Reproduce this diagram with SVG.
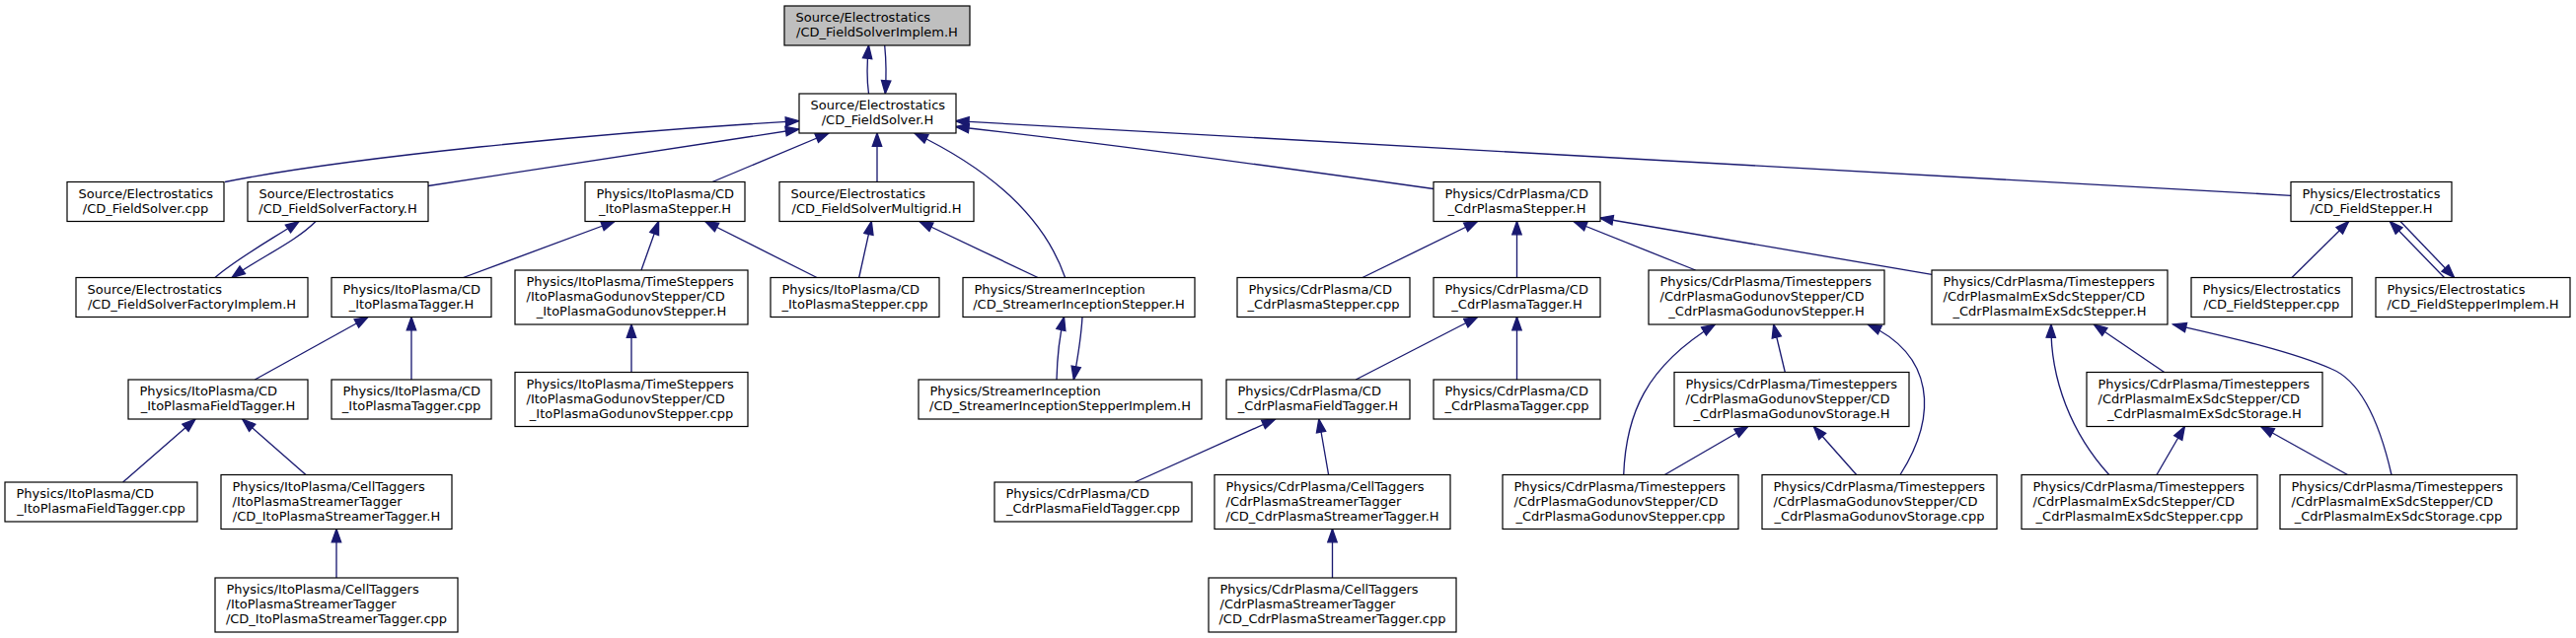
<svg xmlns="http://www.w3.org/2000/svg" width="2611" height="647" viewBox="0 0 2611 647">
<defs>
<style>
.n rect{fill:#ffffff;stroke:#000000;stroke-width:1.2}
.n.root rect{fill:#bfbfbf}
.n text{font-family:"DejaVu Sans",sans-serif;font-size:13px;fill:#000000}
.n text.c{text-anchor:middle}
#edges path{fill:none;stroke:#191970;stroke-width:1.33;marker-end:url(#ah)}
</style>
<marker id="ah" markerUnits="userSpaceOnUse" markerWidth="16" markerHeight="12" viewBox="-1 -6 16 12" refX="13.3" refY="0" orient="auto">
<path d="M0,-4.7 L13.3,0 L0,4.7 z" fill="#191970" stroke="#191970" stroke-width="1.33"/>
</marker>
</defs>
<rect x="0" y="0" width="2611" height="647" fill="#ffffff"/>
<g id="edges">
<path d="M880.5,95 C878.5,80 878.8,62 880.5,46"/>
<path d="M896.7,46 C898.3,62 898.3,80 897.3,95"/>
<path d="M228,184.5 C350,160 600,135 809.7,122.7"/>
<path d="M434,188.5 L809.7,131"/>
<path d="M722,184.5 L840,135"/>
<path d="M889,184.5 L889,135"/>
<path d="M1079.6,281.5 C1060,225 1010,175 927,135"/>
<path d="M1453,191.5 C1300,170 1100,143 968.7,128.5"/>
<path d="M2322,198.3 L968.7,122.7"/>
<path d="M218,281.5 C240,262 280,240 303,224.5"/>
<path d="M320,224.5 C300,245 262,262 235,281.5"/>
<path d="M469.6,281.5 L623,224.5"/>
<path d="M650,274 L667.6,224.5"/>
<path d="M828,281.5 L714.7,224.5"/>
<path d="M870.7,281.5 L883.3,224.5"/>
<path d="M1052,281.5 L932,224.5"/>
<path d="M1071,385 C1071.5,365 1074,340 1078.5,321.5"/>
<path d="M1097,321.5 C1096,340 1092,365 1088.3,385"/>
<path d="M1381,281.5 L1497.6,224.5"/>
<path d="M1537.5,281.5 L1537.5,224.5"/>
<path d="M1718.6,274 L1595,224.5"/>
<path d="M1958,278.3 L1621.6,221"/>
<path d="M2323,281.5 L2380.7,224.5"/>
<path d="M2477.5,281.5 L2422.3,224.5"/>
<path d="M2433,224.5 L2487.6,281.5"/>
<path d="M258.3,385 L373,321.5"/>
<path d="M417,385 L417,321.5"/>
<path d="M640,377.5 L640,329"/>
<path d="M124.6,489 L198,425"/>
<path d="M310,481.5 L245.7,425"/>
<path d="M341,586 L341,536.5"/>
<path d="M1374.2,385 L1497.6,321.5"/>
<path d="M1537.5,385 L1537.5,321.5"/>
<path d="M1150.3,489 L1292.6,425"/>
<path d="M1346.6,481.5 L1336.8,425"/>
<path d="M1350.5,586 L1350.5,536.5"/>
<path d="M1645.7,481.5 C1648,420 1668,372 1738.3,329"/>
<path d="M1809.3,377.5 L1797.7,329"/>
<path d="M1926,481.5 C1965,420 1960,360 1893.3,329"/>
<path d="M1687.3,481.5 L1771.7,432.5"/>
<path d="M1881.7,481.5 L1838.3,432.5"/>
<path d="M2137.8,481.5 C2100,440 2078,385 2079,329"/>
<path d="M2193.7,377.5 L2122.4,329"/>
<path d="M2424,481.5 C2410,420 2390,385 2363,374 C2320,355 2250,340 2202.6,329"/>
<path d="M2186,481.5 L2214.4,432.5"/>
<path d="M2379.5,481.5 L2291.6,432.5"/>
</g>

<g id="n_top" class="n root"><rect x="795" y="6" width="188" height="40"/><text x="806.5" y="22">Source/Electrostatics</text><text class="c" x="889" y="37">/CD_FieldSolverImplem.H</text></g>
<g id="n_fs" class="n"><rect x="810" y="95" width="159" height="40"/><text x="821.5" y="111">Source/Electrostatics</text><text class="c" x="889.5" y="126">/CD_FieldSolver.H</text></g>

<g id="n_fscpp" class="n"><rect x="68" y="184.5" width="159" height="40"/><text x="79.5" y="200.5">Source/Electrostatics</text><text class="c" x="147.5" y="215.5">/CD_FieldSolver.cpp</text></g>
<g id="n_fsfac" class="n"><rect x="251" y="184.5" width="183" height="40"/><text x="262.5" y="200.5">Source/Electrostatics</text><text class="c" x="342.5" y="215.5">/CD_FieldSolverFactory.H</text></g>
<g id="n_itostep" class="n"><rect x="593" y="184.5" width="162" height="40"/><text x="604.5" y="200.5">Physics/ItoPlasma/CD</text><text class="c" x="674" y="215.5">_ItoPlasmaStepper.H</text></g>
<g id="n_mg" class="n"><rect x="790" y="184.5" width="197" height="40"/><text x="801.5" y="200.5">Source/Electrostatics</text><text class="c" x="888.5" y="215.5">/CD_FieldSolverMultigrid.H</text></g>
<g id="n_cdrstep" class="n"><rect x="1453" y="184.5" width="169" height="40"/><text x="1464.5" y="200.5">Physics/CdrPlasma/CD</text><text class="c" x="1537.5" y="215.5">_CdrPlasmaStepper.H</text></g>
<g id="n_fstep" class="n"><rect x="2322" y="184.5" width="163" height="40"/><text x="2333.5" y="200.5">Physics/Electrostatics</text><text class="c" x="2403.5" y="215.5">/CD_FieldStepper.H</text></g>

<g id="n_facimpl" class="n"><rect x="77" y="281.5" width="235" height="40"/><text x="88.5" y="297.5">Source/Electrostatics</text><text class="c" x="194.5" y="312.5">/CD_FieldSolverFactoryImplem.H</text></g>
<g id="n_itotag" class="n"><rect x="336" y="281.5" width="162" height="40"/><text x="347.5" y="297.5">Physics/ItoPlasma/CD</text><text class="c" x="417" y="312.5">_ItoPlasmaTagger.H</text></g>
<g id="n_itogodH" class="n"><rect x="522" y="274" width="236" height="55"/><text x="533.5" y="290">Physics/ItoPlasma/TimeSteppers</text><text x="533.5" y="305">/ItoPlasmaGodunovStepper/CD</text><text class="c" x="640" y="320">_ItoPlasmaGodunovStepper.H</text></g>
<g id="n_itostepcpp" class="n"><rect x="781" y="281.5" width="171" height="40"/><text x="792.5" y="297.5">Physics/ItoPlasma/CD</text><text class="c" x="866.5" y="312.5">_ItoPlasmaStepper.cpp</text></g>
<g id="n_sistep" class="n"><rect x="976" y="281.5" width="235" height="40"/><text x="987.5" y="297.5">Physics/StreamerInception</text><text class="c" x="1093.5" y="312.5">/CD_StreamerInceptionStepper.H</text></g>
<g id="n_cdrstepcpp" class="n"><rect x="1254" y="281.5" width="175" height="40"/><text x="1265.5" y="297.5">Physics/CdrPlasma/CD</text><text class="c" x="1341.5" y="312.5">_CdrPlasmaStepper.cpp</text></g>
<g id="n_cdrtag" class="n"><rect x="1453" y="281.5" width="169" height="40"/><text x="1464.5" y="297.5">Physics/CdrPlasma/CD</text><text class="c" x="1537.5" y="312.5">_CdrPlasmaTagger.H</text></g>
<g id="n_cdrgodH" class="n"><rect x="1671" y="274" width="239" height="55"/><text x="1682.5" y="290">Physics/CdrPlasma/Timesteppers</text><text x="1682.5" y="305">/CdrPlasmaGodunovStepper/CD</text><text class="c" x="1790.5" y="320">_CdrPlasmaGodunovStepper.H</text></g>
<g id="n_cdrimexH" class="n"><rect x="1958" y="274" width="239" height="55"/><text x="1969.5" y="290">Physics/CdrPlasma/Timesteppers</text><text x="1969.5" y="305">/CdrPlasmaImExSdcStepper/CD</text><text class="c" x="2077.5" y="320">_CdrPlasmaImExSdcStepper.H</text></g>
<g id="n_fstepcpp" class="n"><rect x="2221" y="281.5" width="163" height="40"/><text x="2232.5" y="297.5">Physics/Electrostatics</text><text class="c" x="2302.5" y="312.5">/CD_FieldStepper.cpp</text></g>
<g id="n_fstepimpl" class="n"><rect x="2408" y="281.5" width="197" height="40"/><text x="2419.5" y="297.5">Physics/Electrostatics</text><text class="c" x="2506.5" y="312.5">/CD_FieldStepperImplem.H</text></g>

<g id="n_itoftagH" class="n"><rect x="130" y="385" width="182" height="40"/><text x="141.5" y="401">Physics/ItoPlasma/CD</text><text class="c" x="221" y="416">_ItoPlasmaFieldTagger.H</text></g>
<g id="n_itotagcpp" class="n"><rect x="336" y="385" width="162" height="40"/><text x="347.5" y="401">Physics/ItoPlasma/CD</text><text class="c" x="417" y="416">_ItoPlasmaTagger.cpp</text></g>
<g id="n_itogodcpp" class="n"><rect x="522" y="377.5" width="236" height="55"/><text x="533.5" y="393.5">Physics/ItoPlasma/TimeSteppers</text><text x="533.5" y="408.5">/ItoPlasmaGodunovStepper/CD</text><text class="c" x="640" y="423.5">_ItoPlasmaGodunovStepper.cpp</text></g>
<g id="n_siimpl" class="n"><rect x="931" y="385" width="287" height="40"/><text x="942.5" y="401">Physics/StreamerInception</text><text class="c" x="1074.5" y="416">/CD_StreamerInceptionStepperImplem.H</text></g>
<g id="n_cdrftagH" class="n"><rect x="1243" y="385" width="186" height="40"/><text x="1254.5" y="401">Physics/CdrPlasma/CD</text><text class="c" x="1336" y="416">_CdrPlasmaFieldTagger.H</text></g>
<g id="n_cdrtagcpp" class="n"><rect x="1453" y="385" width="169" height="40"/><text x="1464.5" y="401">Physics/CdrPlasma/CD</text><text class="c" x="1537.5" y="416">_CdrPlasmaTagger.cpp</text></g>
<g id="n_cdrgodstorH" class="n"><rect x="1697" y="377.5" width="238" height="55"/><text x="1708.5" y="393.5">Physics/CdrPlasma/Timesteppers</text><text x="1708.5" y="408.5">/CdrPlasmaGodunovStepper/CD</text><text class="c" x="1816" y="423.5">_CdrPlasmaGodunovStorage.H</text></g>
<g id="n_cdrimexstorH" class="n"><rect x="2115" y="377.5" width="239" height="55"/><text x="2126.5" y="393.5">Physics/CdrPlasma/Timesteppers</text><text x="2126.5" y="408.5">/CdrPlasmaImExSdcStepper/CD</text><text class="c" x="2234.5" y="423.5">_CdrPlasmaImExSdcStorage.H</text></g>

<g id="n_itoftagcpp" class="n"><rect x="5" y="489" width="195" height="40"/><text x="16.5" y="505">Physics/ItoPlasma/CD</text><text class="c" x="102.5" y="520">_ItoPlasmaFieldTagger.cpp</text></g>
<g id="n_itostrH" class="n"><rect x="224" y="481.5" width="234" height="55"/><text x="235.5" y="497.5">Physics/ItoPlasma/CellTaggers</text><text x="235.5" y="512.5">/ItoPlasmaStreamerTagger</text><text class="c" x="341" y="527.5">/CD_ItoPlasmaStreamerTagger.H</text></g>
<g id="n_cdrftagcpp" class="n"><rect x="1008" y="489" width="200" height="40"/><text x="1019.5" y="505">Physics/CdrPlasma/CD</text><text class="c" x="1108" y="520">_CdrPlasmaFieldTagger.cpp</text></g>
<g id="n_cdrstrH" class="n"><rect x="1231" y="481.5" width="239" height="55"/><text x="1242.5" y="497.5">Physics/CdrPlasma/CellTaggers</text><text x="1242.5" y="512.5">/CdrPlasmaStreamerTagger</text><text class="c" x="1350.5" y="527.5">/CD_CdrPlasmaStreamerTagger.H</text></g>
<g id="n_cdrgodcpp" class="n"><rect x="1523" y="481.5" width="239" height="55"/><text x="1534.5" y="497.5">Physics/CdrPlasma/Timesteppers</text><text x="1534.5" y="512.5">/CdrPlasmaGodunovStepper/CD</text><text class="c" x="1642.5" y="527.5">_CdrPlasmaGodunovStepper.cpp</text></g>
<g id="n_cdrgodstorcpp" class="n"><rect x="1786" y="481.5" width="238" height="55"/><text x="1797.5" y="497.5">Physics/CdrPlasma/Timesteppers</text><text x="1797.5" y="512.5">/CdrPlasmaGodunovStepper/CD</text><text class="c" x="1905" y="527.5">_CdrPlasmaGodunovStorage.cpp</text></g>
<g id="n_cdrimexcpp" class="n"><rect x="2049" y="481.5" width="239" height="55"/><text x="2060.5" y="497.5">Physics/CdrPlasma/Timesteppers</text><text x="2060.5" y="512.5">/CdrPlasmaImExSdcStepper/CD</text><text class="c" x="2168.5" y="527.5">_CdrPlasmaImExSdcStepper.cpp</text></g>
<g id="n_cdrimexstorcpp" class="n"><rect x="2311" y="481.5" width="240" height="55"/><text x="2322.5" y="497.5">Physics/CdrPlasma/Timesteppers</text><text x="2322.5" y="512.5">/CdrPlasmaImExSdcStepper/CD</text><text class="c" x="2431" y="527.5">_CdrPlasmaImExSdcStorage.cpp</text></g>

<g id="n_itostrcpp" class="n"><rect x="218" y="586" width="246" height="55"/><text x="229.5" y="602">Physics/ItoPlasma/CellTaggers</text><text x="229.5" y="617">/ItoPlasmaStreamerTagger</text><text class="c" x="341" y="632">/CD_ItoPlasmaStreamerTagger.cpp</text></g>
<g id="n_cdrstrcpp" class="n"><rect x="1225" y="586" width="251" height="55"/><text x="1236.5" y="602">Physics/CdrPlasma/CellTaggers</text><text x="1236.5" y="617">/CdrPlasmaStreamerTagger</text><text class="c" x="1350.5" y="632">/CD_CdrPlasmaStreamerTagger.cpp</text></g>
</svg>
